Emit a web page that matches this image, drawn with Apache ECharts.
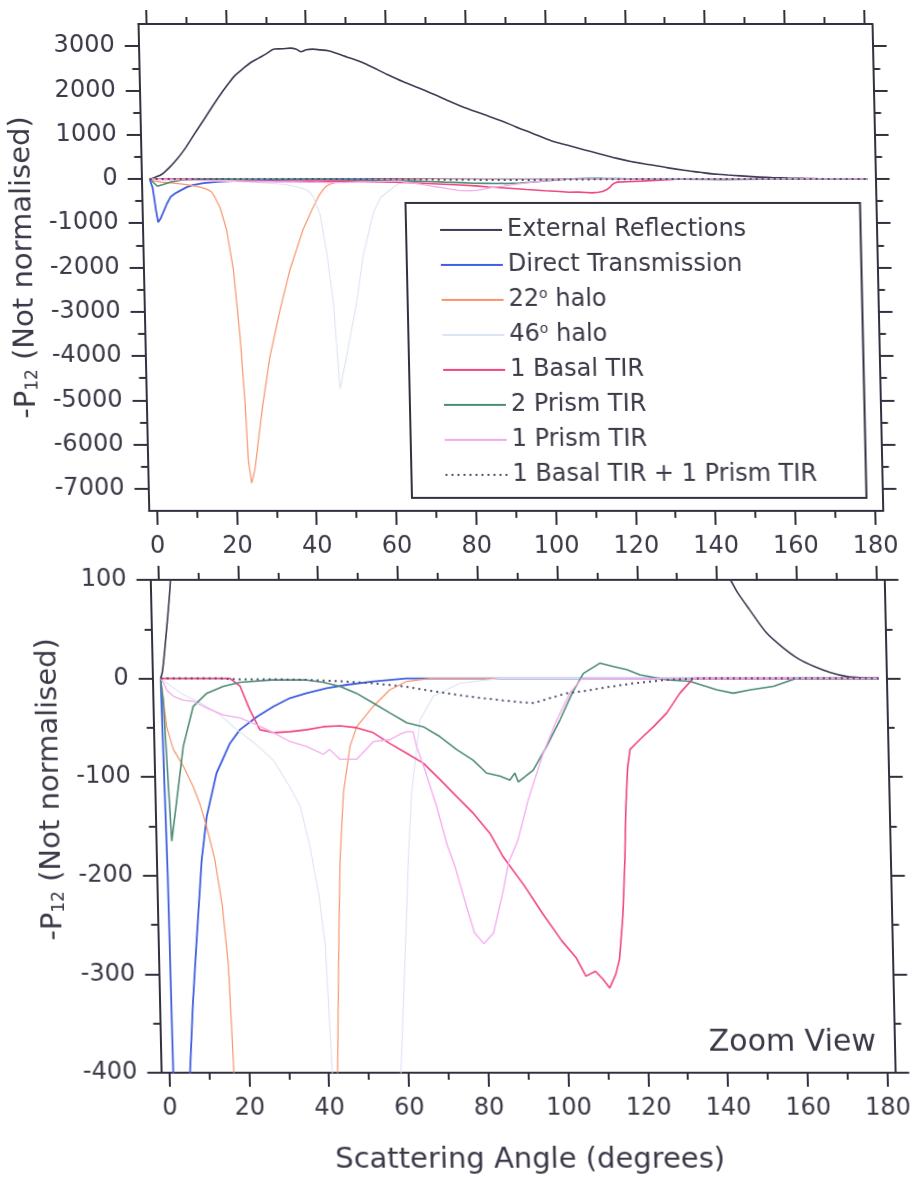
<!DOCTYPE html>
<html>
<head>
<meta charset="utf-8">
<script src="https://cdn.jsdelivr.net/npm/echarts@6.0.0/dist/echarts.min.js"></script>
<style>
  html, body { margin: 0; padding: 0; background: #ffffff; }
  #chart {
    width: 914px; height: 1180px;
    transform: skewX(1.26deg);
    transform-origin: 457px 590px;
  }
</style>
</head>
<body>
<div id="chart"></div>
<script>
// Scattering angle (degrees) and -P12 values (not normalised) for each ray path class.
const reflAngle = [0, 0.5, 1.5, 3, 5, 7, 9, 11, 14, 16, 18, 20, 22, 24, 26, 28, 30, 32, 34, 36, 37.5, 38.6, 40, 41.7, 43.5, 45.5, 48, 50.4, 52, 54, 57, 60, 64, 68, 72, 76, 80, 84, 88.6, 92, 96, 101, 105, 109, 113, 117, 121, 125.6, 130, 134, 138, 141, 143.4, 145, 148, 152, 156, 160, 164, 168, 172, 176, 180];
const reflValue = [0, 7, 40, 100, 256, 450, 680, 950, 1350, 1620, 1880, 2120, 2340, 2490, 2630, 2730, 2830, 2935, 2940, 2955, 2930, 2873, 2920, 2933, 2915, 2895, 2820, 2745, 2700, 2632, 2500, 2367, 2200, 2055, 1900, 1740, 1590, 1460, 1311, 1180, 1040, 858, 760, 660, 565, 470, 390, 320, 250, 195, 150, 115, 100, 88, 70, 47, 32, 20, 12, 6, 2, 0.5, 0];

const directAngle = [0, 0.3, 0.7, 1.0, 1.4, 1.9, 2.5, 3.2, 4.2, 5.2, 6.3, 7.5, 9.3, 10.8, 13.5, 17.0, 19.6, 23.9, 28.1, 32.3, 36.5, 41.6, 46.6, 53.3, 61.6, 80, 180];
const directValue = [0, 0, -200, -400, -700, -980, -900, -763, -560, -400, -330, -270, -184, -140, -96, -66, -52, -39, -28.5, -20, -15, -10, -6.5, -3, 0, 0, 0];

const halo22Angle = [0, 0.3, 1.25, 2.8, 5.2, 7.6, 9.2, 10.7, 12.6, 14.2, 15.4, 16.2, 17.5, 19.0, 20.5, 21.8, 22.7, 23.2, 23.9, 24.8, 26.0, 27.2, 29.2, 32.0, 34.7, 38.2, 40.5, 42.2, 43.3, 44.0, 45.2, 47.1, 48.9, 53.1, 57.4, 61.7, 67.6, 180];
const halo22Value = [0, 0, -49, -72, -89, -110, -128, -150, -184, -230, -290, -400, -650, -1141, -2046, -3556, -5063, -6347, -6874, -6573, -5800, -5063, -4009, -2951, -2046, -1141, -700, -400, -258, -184, -116, -69, -49, -28.5, -11.6, -3, 0, 0];

const halo46Angle = [0, 5, 10, 15, 18.8, 23, 27.8, 31.8, 34.3, 36.5, 38.5, 39.8, 40.9, 42.5, 44.0, 45.4, 46.6, 48.4, 51.2, 53.1, 55.9, 57.8, 59.5, 60.5, 61.1, 62.3, 64.8, 68.3, 75, 85, 180];
const halo46Value = [0, -15, -25, -38, -52, -65, -83, -110, -130, -170, -220, -270, -400, -800, -1668, -2800, -4745, -4009, -2800, -1744, -763, -420, -300, -230, -184, -116, -42, -18, -5, 0, 0];

const basalAngle = [0, 17.4, 19.9, 22.2, 24.6, 28.0, 32.1, 36.4, 40.5, 44.7, 48.9, 53.0, 57.1, 61.3, 65.4, 69.6, 73.6, 77.7, 81.7, 84.9, 90.0, 94.4, 99.1, 102.6, 105.0, 107.4, 109.2, 110.9, 112.5, 113.5, 114.6, 115.4, 115.9, 116.6, 117.3, 119.8, 123.3, 126.7, 130.1, 133.5, 180];
const basalValue = [0, 0, -8, -32, -52, -55, -54, -52, -49, -48, -50, -55, -66, -76, -86, -103, -120, -137, -157, -181, -210, -238, -266, -283, -302, -297, -305, -314, -300, -285, -240, -184, -133, -90, -72, -62, -49, -35, -15, 0, 0];

const prism2Angle = [0, 0.5, 1.9, 3.4, 5.3, 8, 11.5, 15.7, 19.9, 27.8, 36.2, 40.8, 44.9, 49, 53.2, 57.3, 61.5, 65.6, 69.7, 73.8, 77.9, 81.2, 84.5, 87, 88.3, 89.1, 92.9, 96.4, 99.9, 103.1, 106, 110.2, 113.6, 116.9, 120.2, 126.9, 132.7, 139.4, 143.5, 147.8, 153.6, 159.4, 180];
const prism2Value = [0, -20, -165, -123, -69, -28.5, -15, -8, -4, -1.5, -1.5, -4, -8, -15, -25, -35, -45, -49, -59, -72, -83, -96, -99, -103, -96, -105, -93, -69, -42, -15, 5, 15.5, 12, 9, 3.7, -1.4, -3, -11.6, -15, -11.6, -8, 0, 0];

const prism1Angle = [0, 0.8, 1.5, 3.1, 5.6, 8, 11.4, 15.5, 19.7, 23.8, 28, 32.1, 36.2, 40.4, 42, 44.5, 48.7, 53, 57.2, 60, 61.4, 63, 63.8, 66, 68.5, 71, 72.8, 75, 77.3, 79.6, 82.1, 84.8, 86.2, 88.7, 91.5, 95.5, 99.1, 102.5, 105.6, 180];
const prism1Value = [0, -5, -12, -18, -22, -23, -30, -37, -40, -47, -55, -64, -69, -77, -72, -82, -82, -64, -62, -56, -54, -54, -69, -96, -130, -170, -191, -225, -258, -269, -258, -214, -187, -164, -123, -76, -42, -15, 0, 0];

const comboAngle = [0, 15, 20, 30, 36.6, 45, 53.3, 60.8, 68.3, 76.6, 85, 90, 93.5, 97.5, 101.7, 105.9, 110.1, 118.5, 126.8, 135, 180];
const comboValue = [0, 0, -1, -1, -1.4, -2.8, -5, -8, -13, -18, -22, -24, -25, -20, -15, -13, -10, -5, -1.4, 0, 0];

// Axis ticks and labels
const angleTicks = [0, 20, 40, 60, 80, 100, 120, 140, 160, 180];
const angleMinorTicks = [10, 30, 50, 70, 90, 110, 130, 150, 170];
const fullTicks = [3000, 2000, 1000, 0, -1000, -2000, -3000, -4000, -5000, -6000, -7000];
const fullMinorTicks = [2500, 1500, 500, -500, -1500, -2500, -3500, -4500, -5500, -6500];
const zoomTicks = [100, 0, -100, -200, -300, -400];
const zoomMinorTicks = [50, -50, -150, -250, -350];

const FONT = 'DejaVu Sans';
const INK = '#3a3947';
const AXIS = '#33313e';

const seriesDefs = [
  { name: 'External Reflections', angle: reflAngle, value: reflValue, color: '#3d3a52', width: 1.6, smooth: 0.3 },
  { name: 'Direct Transmission', angle: directAngle, value: directValue, color: '#3f5fe0', width: 1.8 },
  { name: '22° halo', angle: halo22Angle, value: halo22Value, color: '#f8946c', width: 1.2 },
  { name: '46° halo', angle: halo46Angle, value: halo46Value, color: '#dbe4f4', width: 1.1 },
  { name: '1 Basal TIR', angle: basalAngle, value: basalValue, color: '#f0457f', width: 1.6 },
  { name: '2 Prism TIR', angle: prism2Angle, value: prism2Value, color: '#4f8c76', width: 1.6 },
  { name: '1 Prism TIR', angle: prism1Angle, value: prism1Value, color: '#f4aaec', width: 1.3 },
  { name: '1 Basal TIR + 1 Prism TIR', angle: comboAngle, value: comboValue, color: '#4f4f6e', width: 2, dash: [2, 4] }
];

const pairs = (a, v) => a.map((x, i) => [x, v[i]]);
const numLabel = v => String(v);

function xAxesFor(grid, withName) {
  const base = { gridIndex: grid, type: 'value', min: -2, max: 182, splitLine: { show: false } };
  const tickStyle = { color: AXIS, width: 2 };
  const major = Object.assign({}, base, {
    position: 'bottom',
    axisLine: { show: true, onZero: false, lineStyle: { color: AXIS, width: 2 } },
    axisTick: { show: true, customValues: angleTicks, length: 14, lineStyle: tickStyle },
    axisLabel: { show: true, customValues: angleTicks, margin: 24, fontSize: 24, fontFamily: FONT, color: INK, formatter: numLabel }
  });
  if (withName) {
    major.name = 'Scattering Angle (degrees)';
    major.nameLocation = 'middle';
    major.nameGap = 73;
    major.nameTextStyle = { fontSize: 29, fontFamily: FONT, color: INK };
  }
  return [
    major,
    Object.assign({}, base, {
      position: 'bottom', axisLine: { show: false, onZero: false },
      axisTick: { show: true, customValues: angleMinorTicks, length: 7, lineStyle: tickStyle },
      axisLabel: { show: false }
    }),
    Object.assign({}, base, {
      position: 'top', axisLine: { show: true, onZero: false, lineStyle: { color: AXIS, width: 2 } },
      axisTick: { show: true, customValues: angleTicks, length: 14, lineStyle: tickStyle },
      axisLabel: { show: false }
    }),
    Object.assign({}, base, {
      position: 'top', axisLine: { show: false, onZero: false },
      axisTick: { show: true, customValues: angleMinorTicks, length: 7, lineStyle: tickStyle },
      axisLabel: { show: false }
    })
  ];
}

function yAxesFor(grid, min, max, ticks, minor, namePad) {
  const base = { gridIndex: grid, type: 'value', min: min, max: max, splitLine: { show: false } };
  const tickStyle = { color: AXIS, width: 2 };
  const richName = {
    m: { fontSize: 29, lineHeight: 29, verticalAlign: 'top', fontFamily: FONT, color: INK },
    s: { fontSize: 17, lineHeight: 17, verticalAlign: 'bottom', padding: [31, 0, 0, 0], fontFamily: FONT, color: INK }
  };
  return [
    Object.assign({}, base, {
      position: 'left',
      axisLine: { show: true, onZero: false, lineStyle: { color: AXIS, width: 2 } },
      axisTick: { show: true, customValues: ticks, length: 14, lineStyle: tickStyle },
      axisLabel: { show: true, customValues: ticks, margin: 24, fontSize: 24, fontFamily: FONT, color: INK, formatter: numLabel },
      name: '{m|-P}{s|12}{m| (Not normalised)}',
      nameLocation: 'middle',
      nameRotate: 90,
      nameGap: 81,
      nameTextStyle: { fontSize: 29, fontFamily: FONT, color: INK, padding: namePad, rich: richName }
    }),
    Object.assign({}, base, {
      position: 'left', axisLine: { show: false, onZero: false },
      axisTick: { show: true, customValues: minor, length: 7, lineStyle: tickStyle },
      axisLabel: { show: false }
    }),
    Object.assign({}, base, {
      position: 'right', axisLine: { show: true, onZero: false, lineStyle: { color: AXIS, width: 2 } },
      axisTick: { show: true, customValues: ticks, length: 14, lineStyle: tickStyle },
      axisLabel: { show: false }
    }),
    Object.assign({}, base, {
      position: 'right', axisLine: { show: false, onZero: false },
      axisTick: { show: true, customValues: minor, length: 7, lineStyle: tickStyle },
      axisLabel: { show: false }
    })
  ];
}

const series = [];
seriesDefs.forEach(d => {
  [0, 4].forEach(axisIdx => {
    series.push({
      type: 'line',
      name: d.name,
      xAxisIndex: axisIdx,
      yAxisIndex: axisIdx,
      data: pairs(d.angle, d.value),
      symbol: 'none',
      showSymbol: false,
      smooth: d.smooth || false,
      clip: true,
      silent: true,
      lineStyle: { color: d.color, width: d.width, type: d.dash || 'solid' },
      itemStyle: { color: d.color }
    });
  });
});

const legendText = {
  '22° halo': '{m|22}{sup|o}{m| halo}',
  '46° halo': '{m|46}{sup|o}{m| halo}'
};

const chart = echarts.init(document.getElementById('chart'), null, { renderer: 'canvas' });
chart.setOption({
  animation: false,
  backgroundColor: '#ffffff',
  grid: [
    { left: 150.7, right: 29.4, top: 24, height: 487, containLabel: false, outerBoundsMode: 'none' },
    { left: 150.7, right: 29.4, top: 580, height: 493, containLabel: false, outerBoundsMode: 'none' }
  ],
  xAxis: xAxesFor(0, false).concat(xAxesFor(1, true)),
  yAxis: yAxesFor(0, -7500, 3500, fullTicks, fullMinorTicks, [0, 0, 0, 0])
    .concat(yAxesFor(1, -400, 100, zoomTicks, zoomMinorTicks, [0, 0, 0, 74])),
  legend: {
    orient: 'vertical',
    left: 414,
    top: 205,
    padding: [12, 0, 12, 33],
    itemWidth: 62,
    itemHeight: 14,
    itemGap: 9,
    selectedMode: false,
    data: seriesDefs.map(d => d.name),
    formatter: name => legendText[name] || name,
    // line samples only: the marker part of each legend icon is hidden
    itemStyle: { opacity: 0, borderWidth: 0 },
    textStyle: {
      fontSize: 24, lineHeight: 26, fontFamily: FONT, color: INK,
      rich: {
        m: { fontSize: 24, lineHeight: 26, fontFamily: FONT, color: INK },
        sup: { fontSize: 14, lineHeight: 14, verticalAlign: 'top', fontFamily: FONT, color: INK }
      }
    }
  },
  graphic: [
    {
      type: 'rect',
      shape: { x: 414, y: 203, width: 454.5, height: 295 },
      style: { fill: 'none', stroke: AXIS, lineWidth: 2 },
      silent: true
    },
    {
      type: 'text',
      x: 866, y: 1058,
      style: {
        text: 'Zoom View', fill: INK, font: '30px "DejaVu Sans"',
        textAlign: 'right', textVerticalAlign: 'bottom', align: 'right', verticalAlign: 'bottom'
      },
      silent: true
    }
  ],
  series: series
});
</script>
</body>
</html>
